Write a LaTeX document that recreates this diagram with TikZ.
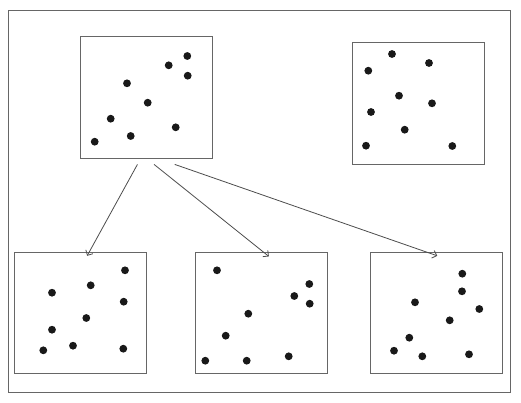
\documentclass[tikz,border=0pt]{standalone}
\usetikzlibrary{calc,arrows.meta}
\tikzset{panel/.style={draw=black!60,line width=0.9pt,minimum width=132pt,minimum height=121.5pt,inner sep=0pt},
	link/.style={draw=black!70,line width=0.8pt,-{Straight Barb[length=4pt,width=8pt]}},
	dot/.style={fill=black!90}}

\begin{document}
\begin{tikzpicture}[x=1pt,y=-1pt]
\useasboundingbox (0,0) rectangle (521,402);
\draw[black!60,line width=0.9pt] (8,10) rectangle (510,392);
\node[panel] (top) at (146.5,97.5) {};
\node[panel] (rest) at (418.2,103.3) {};
\node[panel] (left) at (80.3,313) {};
\node[panel] (mid) at (261.3,313) {};
\node[panel] (right) at (436.3,313) {};
\foreach \x/\y in {187.3/56,168.7/65.3,187.7/75.7,127/83.3,147.7/102.7,110.7/118.7,175.7/127.3,130.7/136,94.7/141.7,
	392/54,429/63,368.3/70.7,399/95.7,432/103.3,371/112,404.7/129.7,366/145.7,452.3/146,
	125/270.3,90.7/285.3,52/292.7,123.7/301.7,86.3/318,52/329.7,73/345.7,43.3/350.3,123.3/348.7,
	217/270.3,309.3/284,294.3/296,309.7/303.7,248.3/313.7,225.7/335.7,205.3/360.7,246.7/360.7,288.7/356.3,
	462.3/273.7,462/291.3,415/302.3,479.3/309,449.7/320.3,409.3/337.7,394/350.7,422.3/356.3,469/354.3}
	\fill[dot] (\x,\y) circle (3.9pt);
\draw[link] ($(top.south west)+(57.4,5.7)$) -- ($(left.north west)+(73.3,4)$);
\draw[link] ($(top.south west)+(74,5.7)$) -- ($(mid.north west)+(74,4.6)$);
\draw[link] ($(top.south west)+(94.7,5.7)$) -- ($(right.north west)+(67.4,4)$);
\end{tikzpicture}
\end{document}
